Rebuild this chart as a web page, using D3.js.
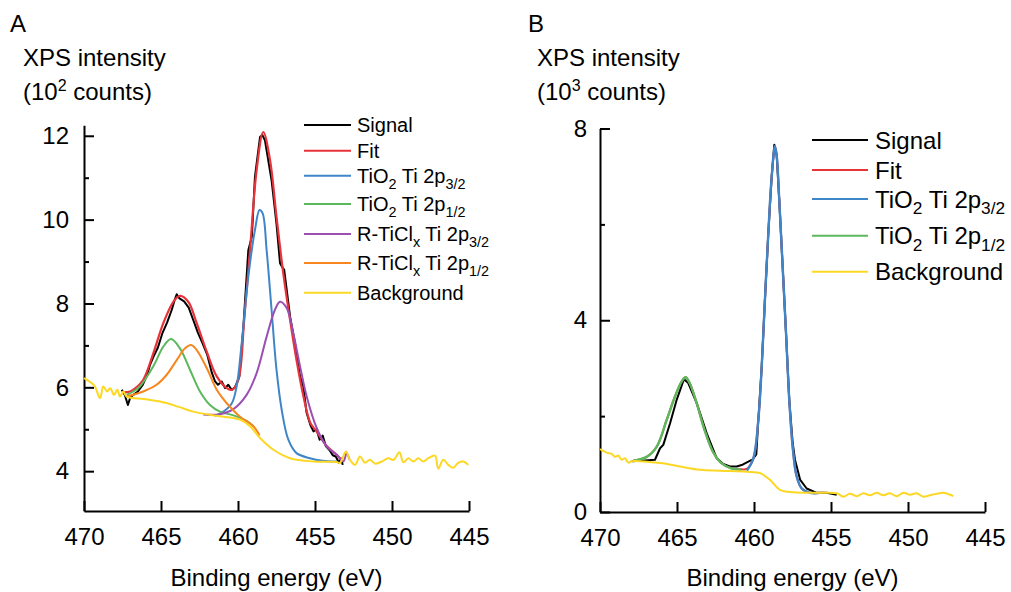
<!DOCTYPE html>
<html><head><meta charset="utf-8">
<script src="https://cdn.jsdelivr.net/npm/d3@7"></script>
<style>
html,body{margin:0;padding:0;background:#fff;}
svg{display:block;font-family:"Liberation Sans",Arial,sans-serif;}
</style></head>
<body>
<svg id="chart" width="1011" height="592"></svg>
<script>
// ---------- DATA (binding energy eV, intensity) ----------
// Panel A (10^2 counts)
const aSignal = [[467.55,5.94],[467.35,5.82],[467.15,5.58],[467.0,5.75],[466.8,5.82],[466.5,5.9],[466.2,6.05],[465.9,6.3],[465.7,6.55],[465.5,6.72],[465.2,6.95],[464.9,7.3],[464.6,7.55],[464.3,7.85],[464.1,8.1],[463.98,8.22],[463.8,8.12],[463.5,8.05],[463.2,7.9],[462.9,7.6],[462.6,7.3],[462.3,7.05],[462.0,6.78],[461.7,6.35],[461.5,6.15],[461.3,6.06],[461.06,6.14],[460.84,5.98],[460.63,6.06],[460.41,5.94],[460.19,6.0],[459.91,6.26],[459.65,7.45],[459.33,9.27],[459.1,9.59],[458.9,11.02],[458.57,11.97],[458.42,12.02],[458.25,11.89],[457.82,10.94],[457.5,9.9],[457.27,8.96],[457.15,8.88],[457.0,8.8],[456.62,7.69],[456.3,7.05],[455.97,6.26],[455.76,6.02],[455.55,5.4],[455.3,5.1],[455.1,4.95],[454.9,5.0],[454.7,4.75],[454.5,4.85],[454.3,4.6],[454.05,4.5],[453.85,4.38],[453.65,4.35],[453.45,4.2],[453.3,4.3],[453.2,4.15]];
const aFit = [[467.5,5.88],[467.0,5.9],[466.6,6.0],[466.15,6.18],[465.5,6.81],[464.85,7.53],[464.2,8.04],[463.77,8.18],[463.23,8.04],[462.68,7.53],[462.03,6.85],[461.38,6.26],[460.73,5.98],[460.41,5.94],[459.98,6.18],[459.6,7.6],[459.22,9.27],[458.79,11.18],[458.36,12.09],[457.92,11.42],[457.5,10.07],[457.06,8.72],[456.62,7.61],[456.2,6.65],[455.76,5.8],[455.3,5.15],[454.9,4.95],[454.24,4.6],[453.59,4.39],[453.2,4.23]];
const aTiO2_32 = [[461.5,5.32],[460.95,5.42],[460.4,5.62],[460.09,6.02],[459.76,7.05],[459.33,8.64],[458.9,9.75],[458.6,10.23],[458.4,10.15],[458.14,9.27],[457.82,7.85],[457.5,6.42],[457.16,5.46],[456.73,4.75],[456.2,4.43],[455.33,4.31],[454.5,4.25],[453.6,4.23]];
const aTiO2_12 = [[467.23,5.82],[466.8,5.9],[466.36,6.02],[465.5,6.5],[464.85,6.97],[464.35,7.15],[463.77,6.93],[463.12,6.42],[462.47,5.9],[461.82,5.58],[461.17,5.42],[460.3,5.33],[459.44,5.2],[459.0,5.07]];
const aRTiCl_32 = [[462.25,5.35],[461.17,5.36],[460.3,5.48],[459.44,5.82],[458.79,6.34],[458.14,7.21],[457.6,7.85],[457.27,8.04],[456.84,7.89],[456.41,7.29],[455.97,6.5],[455.54,5.78],[454.89,5.03],[454.24,4.59],[453.59,4.39],[453.16,4.23],[452.95,4.42],[452.75,4.27]];
const aRTiCl_12 = [[467.23,5.78],[466.15,5.9],[465.29,6.06],[464.63,6.3],[463.98,6.65],[463.44,6.93],[463.05,7.01],[462.68,6.89],[462.03,6.46],[461.38,5.94],[460.73,5.62],[459.87,5.3],[459.0,5.07],[458.6,4.85]];
const aBackground = [[470.0,6.22],[469.5,6.1],[469.29,6.02],[468.96,5.74],[468.75,6.02],[468.5,5.9],[468.3,5.98],[468.05,5.82],[467.84,5.94],[467.66,5.78],[467.45,5.9],[467.23,5.78],[466.1,5.72],[465.06,5.66],[463.9,5.54],[462.9,5.42],[461.38,5.32],[459.87,5.23],[459.22,5.07],[458.57,4.79],[457.7,4.51],[456.62,4.31],[455.1,4.23],[453.6,4.22],[453.38,4.2],[452.99,4.47],[452.73,4.27],[452.4,4.15],[452.08,4.35],[451.75,4.2],[451.43,4.27],[451.1,4.18],[450.67,4.23],[450.24,4.31],[449.9,4.27],[449.52,4.45],[449.26,4.21],[448.94,4.31],[448.61,4.23],[448.29,4.31],[447.97,4.23],[447.64,4.31],[447.21,4.37],[447.0,4.06],[446.67,4.27],[446.34,4.15],[446.02,4.08],[445.7,4.2],[445.37,4.23],[445.05,4.15]];
// Panel B (10^3 counts)
const bSignal = [[467.94,1.06],[467.3,1.07],[466.43,1.09],[466.1,1.33],[465.89,1.4],[465.45,1.85],[465.02,2.34],[464.55,2.77],[464.27,2.69],[463.72,2.27],[463.07,1.64],[462.42,1.12],[462.0,1.0],[461.56,0.95],[461.12,0.95],[460.8,0.98],[460.37,1.05],[460.08,1.1],[459.85,1.2],[459.72,1.92],[459.5,3.03],[459.29,4.43],[459.07,5.82],[458.85,7.0],[458.68,7.66],[458.53,7.45],[458.36,6.51],[458.14,5.12],[457.92,3.73],[457.71,2.34],[457.49,1.45],[457.34,1.09],[457.0,0.67],[456.58,0.49],[455.93,0.4],[455.28,0.4],[454.63,0.36]];
const bFit = [[467.84,1.07],[466.97,1.15],[466.32,1.36],[465.67,1.92],[465.13,2.41],[464.7,2.72],[464.44,2.81],[464.18,2.69],[463.75,2.3],[463.21,1.71],[462.67,1.26],[462.12,1.02],[461.47,0.91],[460.82,0.89],[460.47,0.9],[460.04,1.12],[459.72,1.92],[459.5,3.03],[459.29,4.43],[459.07,5.82],[458.85,7.0],[458.64,7.63],[458.53,7.45],[458.36,6.51],[458.14,5.12],[457.92,3.73],[457.71,2.34],[457.49,1.36],[457.23,0.74],[456.9,0.49],[456.36,0.4],[455.5,0.4]];
const bTiO2_32 = [[460.47,0.86],[460.04,1.12],[459.72,1.92],[459.5,3.03],[459.29,4.43],[459.07,5.82],[458.85,7.0],[458.64,7.63],[458.53,7.45],[458.36,6.51],[458.14,5.12],[457.92,3.73],[457.71,2.34],[457.49,1.36],[457.23,0.74],[456.9,0.49],[456.36,0.4],[455.7,0.4]];
const bTiO2_12 = [[467.84,1.07],[466.97,1.15],[466.32,1.36],[465.67,1.92],[465.13,2.41],[464.7,2.72],[464.44,2.81],[464.18,2.69],[463.75,2.3],[463.21,1.71],[462.67,1.26],[462.12,1.02],[461.47,0.91],[460.82,0.88]];
const bBackground = [[470.0,1.31],[469.57,1.24],[469.24,1.21],[469.03,1.15],[468.81,1.18],[468.6,1.09],[468.38,1.12],[468.16,1.03],[467.94,1.06],[466.1,1.02],[464.8,0.95],[463.5,0.88],[462.2,0.86],[460.47,0.84],[459.6,0.81],[458.96,0.67],[458.31,0.46],[457.45,0.41],[455.7,0.4],[454.63,0.39],[454.2,0.32],[453.77,0.38],[453.33,0.33],[452.9,0.39],[452.47,0.35],[452.03,0.4],[451.6,0.35],[451.17,0.39],[450.73,0.33],[450.3,0.4],[449.87,0.36],[449.44,0.39],[449.0,0.32],[448.57,0.35],[448.14,0.38],[447.7,0.4],[447.27,0.36],[447.06,0.33]];
// ticks
const xTicks = [470,465,460,455,450,445];
const aYMajor = [4,6,8,10,12];
const aYMinor = [5,7,9,11];
const bYMajor = [0,4,8];
const bYMinor = [2,6];
// legends
const aLegend = [
  {parts:[["Signal",""]], color:"#000000"},
  {parts:[["Fit",""]], color:"#e8333a"},
  {parts:[["TiO",""],["2","sub"],[" Ti 2p",""],["3/2","sub"]], color:"#3f86c8"},
  {parts:[["TiO",""],["2","sub"],[" Ti 2p",""],["1/2","sub"]], color:"#5cb85c"},
  {parts:[["R-TiCl",""],["x","sub"],[" Ti 2p",""],["3/2","sub"]], color:"#9b4fb3"},
  {parts:[["R-TiCl",""],["x","sub"],[" Ti 2p",""],["1/2","sub"]], color:"#f7861f"},
  {parts:[["Background",""]], color:"#fcd824"}
];
const bLegend = [aLegend[0], aLegend[1], aLegend[2], aLegend[3], aLegend[6]];

// ---------- DRAW ----------
const svg = d3.select("#chart");
const C = {sig:"#000000", fit:"#e8333a", blue:"#3f86c8", green:"#5cb85c", purple:"#9b4fb3", orange:"#f7861f", yellow:"#fcd824"};

function panel(cfg){
  const x = d3.scaleLinear().domain([470,445]).range(cfg.xr);
  const y = d3.scaleLinear().domain(cfg.yd).range(cfg.yr);
  const g = svg.append("g");
  // axes
  const xa = g.append("g").attr("transform",`translate(0,${cfg.yr[0]})`)
    .call(d3.axisBottom(x).tickValues(xTicks).tickSize(-10).tickSizeOuter(0).tickPadding(17).tickFormat(d3.format("d")));
  const ya = g.append("g").attr("transform",`translate(${cfg.xr[0]},0)`)
    .call(d3.axisLeft(y).tickValues(cfg.major).tickSize(-10).tickSizeOuter(0).tickPadding(cfg.pad).tickFormat(d3.format("d")));
  g.append("g").attr("transform",`translate(${cfg.xr[0]},0)`)
    .call(d3.axisLeft(y).tickValues(cfg.minor).tickSize(-5).tickSizeOuter(0).tickFormat(""))
    .select(".domain").remove();
  g.selectAll(".domain").attr("stroke","#000").attr("stroke-width",2);
  g.selectAll(".tick line").attr("stroke","#000").attr("stroke-width",2);
  g.selectAll(".tick text").attr("font-size",24).attr("fill","#000").attr("font-family","Liberation Sans, Arial, sans-serif");
  // curves
  const line = (curve)=>d3.line().x(d=>x(d[0])).y(d=>y(d[1])).curve(curve);
  cfg.series.forEach(s=>{
    g.append("path").datum(s.data).attr("fill","none").attr("stroke",s.color)
      .attr("stroke-width",s.w||2).attr("stroke-linejoin","round")
      .attr("d", line(s.smooth ? d3.curveCatmullRom.alpha(0.5) : d3.curveLinear));
  });
  // labels
  svg.append("text").attr("x",cfg.letter[0]).attr("y",cfg.letter[1]).attr("font-size",24).text(cfg.letterText);
  svg.append("text").attr("x",cfg.titleX).attr("y",66).attr("font-size",24).text("XPS intensity");
  const t2 = svg.append("text").attr("x",cfg.titleX).attr("y",100).attr("font-size",24);
  t2.append("tspan").text("(10");
  t2.append("tspan").attr("dy",-9).attr("font-size",16).text(cfg.exp);
  t2.append("tspan").attr("dy",9).text(" counts)");
  svg.append("text").attr("x",(cfg.xr[0]+cfg.xr[1])/2).attr("y",586).attr("text-anchor","middle")
    .attr("font-size",24).text("Binding energy (eV)");
  // legend
  cfg.legend.forEach((L,i)=>{
    const ly = cfg.legY[i];
    svg.append("line").attr("x1",cfg.legX[0]).attr("x2",cfg.legX[1]).attr("y1",ly).attr("y2",ly)
      .attr("stroke",L.color).attr("stroke-width",2);
    const t = svg.append("text").attr("x",cfg.legX[2]).attr("y",ly+cfg.legFs*0.36).attr("font-size",cfg.legFs);
    let shifted=false;
    L.parts.forEach(p=>{
      const ts = t.append("tspan").text(p[0]);
      if(p[1]==="sub"){ ts.attr("font-size",cfg.legFs*0.72).attr("dy",cfg.legFs*0.28); shifted=true; }
      else if(shifted){ ts.attr("dy",-cfg.legFs*0.28); shifted=false; }
    });
  });
}

panel({
  xr:[84,469], yd:[3.05,12.25], yr:[511,125.3], major:aYMajor, minor:aYMinor, pad:15,
  letter:[10,32], letterText:"A", titleX:23, exp:"2",
  legend:aLegend, legX:[304,351,357], legY:[125,150.7,175.7,204,234,263,292.7], legFs:20,
  series:[
    {data:aSignal,color:C.sig,w:2},
    {data:aFit,color:C.fit,smooth:true,w:2.2},
    {data:aTiO2_32,color:C.blue,smooth:true},
    {data:aTiO2_12,color:C.green,smooth:true},
    {data:aRTiCl_32,color:C.purple,smooth:true},
    {data:aRTiCl_12,color:C.orange,smooth:true},
    {data:aBackground,color:C.yellow,smooth:true}
  ]
});
panel({
  xr:[600,985], yd:[0,8], yr:[512,128.5], major:bYMajor, minor:bYMinor, pad:13,
  letter:[528,32], letterText:"B", titleX:537, exp:"3",
  legend:bLegend, legX:[812,868,875], legY:[140,170,199,235.7,271.7], legFs:24,
  series:[
    {data:bSignal,color:C.sig,w:2},
    {data:bFit,color:C.fit,smooth:true},
    {data:bTiO2_32,color:C.blue,smooth:true,w:2.4},
    {data:bTiO2_12,color:C.green,smooth:true,w:2.4},
    {data:bBackground,color:C.yellow,smooth:true}
  ]
});
</script>
</body></html>
